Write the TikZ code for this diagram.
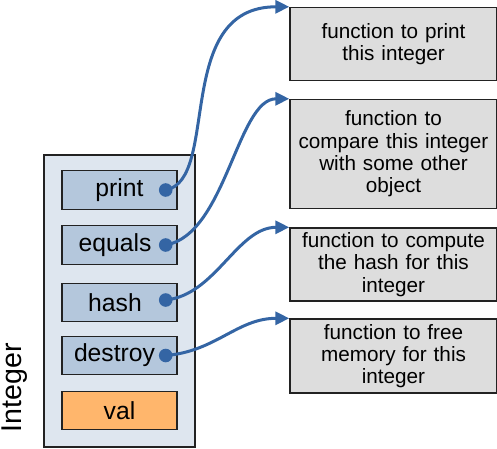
\documentclass[tikz,border=0pt]{standalone}
\usepackage{fontspec}
\setmainfont{Liberation Sans}
\usetikzlibrary{arrows.meta}
\definecolor{outerfill}{HTML}{DEE6EF}
\definecolor{slotfill}{HTML}{B4C7DC}
\definecolor{valfill}{HTML}{FFB66C}
\definecolor{funcfill}{HTML}{DDDDDD}
\definecolor{linkblue}{HTML}{3465A4}
\definecolor{edge}{HTML}{222222}
\tikzset{
  outerbox/.style={draw=edge, line width=1.4pt, fill=outerfill, minimum width=151pt, minimum height=292pt, inner sep=0pt},
  slotbox/.style={draw=edge, line width=1.4pt, fill=slotfill, minimum width=115pt, minimum height=38.5pt, inner sep=0pt, font=\fontsize{24.7}{28}\selectfont},
  valbox/.style={slotbox, fill=valfill},
  funcbox/.style={draw=edge, line width=1.4pt, fill=funcfill, minimum width=207pt, text width=200pt, align=center, inner sep=0pt, font=\fontsize{20.7}{22.3}\selectfont},
  link/.style={draw=linkblue, line width=3pt, -{Triangle[length=14pt,width=13pt]}},
  linkdot/.style={fill=linkblue, draw=none},
}
\begin{document}
\begin{tikzpicture}[x=1pt,y=-1pt]
\useasboundingbox (0,0) rectangle (497,448);
\node[outerbox] (outer) at (119.5,301) {};
\node[rotate=90, anchor=base, font=\fontsize{28.6}{32}\selectfont] (lbl) at (21.5,387.5) {Integer};
\node[slotbox] (print) at (119.5,190) {print};
\node[slotbox] (equals) at (119.5,245) {equals\hspace*{9pt}};
\node[slotbox] (hash) at (119.5,302.5) {hash\hspace*{9pt}};
\node[slotbox] (destroy) at (119.5,355.5) {destroy\hspace*{10pt}};
\node[valbox] (val) at (119.5,410.5) {val};
\node[funcbox, minimum height=73pt] (f1) at (393.5,44) {function to print\\this integer};
\node[funcbox, minimum height=109pt] (f2) at (393.5,154) {function to\\compare this integer\\with some other\\object};
\node[funcbox, minimum height=73pt] (f3) at (393.5,264.5) {function to compute\\the hash for this\\integer};
\node[funcbox, minimum height=74pt] (f4) at (393.5,356) {function to free\\memory for this\\integer};
\coordinate (d1) at ([xshift=-12pt]print.east);
\coordinate (d2) at ([xshift=-12pt]equals.east);
\coordinate (d3) at ([xshift=-12pt,yshift=2.5pt]hash.east);
\coordinate (d4) at ([xshift=-12pt]destroy.east);
\draw[link] (d1) .. controls +(55,-10) and +(-117,0) .. (f1.north west);
\draw[link] (d2) .. controls +(60,-10) and +(-52,0) .. (f2.north west);
\draw[link] (d3) .. controls +(50,-5) and +(-52,0) .. (f3.north west);
\draw[link] (d4) .. controls +(50,-4) and +(-52,0) .. (f4.north west);
\foreach \d in {d1,d2,d3,d4} \fill[linkdot] (\d) circle (6.8pt);
\end{tikzpicture}
\end{document}
